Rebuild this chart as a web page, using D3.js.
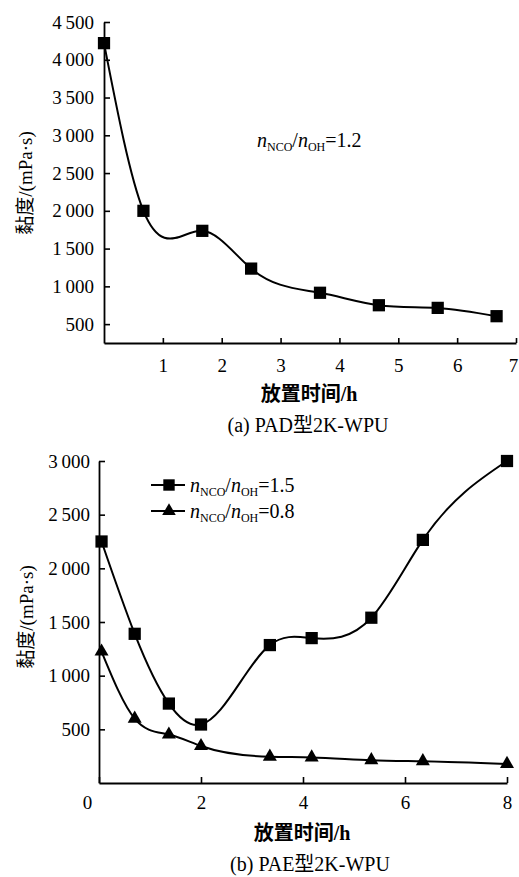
<!DOCTYPE html>
<html><head><meta charset="utf-8">
<script src="https://cdn.jsdelivr.net/npm/d3@7"></script>
<style>
html,body{margin:0;padding:0;background:#fff;}
svg text{fill:#000;}
</style></head>
<body>
<svg id="c" width="519" height="877"></svg>
<script>
// ---- data ----
const topHours = [0, 0.67, 1.67, 2.5, 3.67, 4.67, 5.67, 6.67];
const topVisc12 = [4220, 2000, 1735, 1235, 915, 750, 715, 605];
const topXTicks = [1, 2, 3, 4, 5, 6, 7];
const topYTicks = [500, 1000, 1500, 2000, 2500, 3000, 3500, 4000, 4500];

const botHours = [0.05, 0.7, 1.37, 2.0, 3.35, 4.17, 5.34, 6.35, 8.0];
const botVisc15 = [2250, 1390, 740, 545, 1285, 1350, 1540, 2265, 3000];
const botVisc08 = [1225, 600, 452, 345, 245, 238, 213, 203, 178];
const botXTicks = [0, 2, 4, 6, 8];
const botYTicks = [500, 1000, 1500, 2000, 2500, 3000];

const yTitle = "黏度/(mPa·s)";
const xTitle = "放置时间/h";
const capA = "(a) PAD型2K-WPU";
const capB = "(b) PAE型2K-WPU";

const svg = d3.select("#c");
const SERIF = "'Liberation Serif','Times New Roman','Noto Sans CJK SC',serif";
const fmt = v => d3.format(",")(v).replace(",", "\u2009");

// d3 curve: natural cubic spline of y as a function of x (drawn as Bezier segments)
function curveSplineX(context){
  let pts;
  return {
    areaStart(){}, areaEnd(){},
    lineStart(){ pts = []; },
    point(x, y){ pts.push([+x, +y]); },
    lineEnd(){
      const n = pts.length;
      if (!n) return;
      context.moveTo(pts[0][0], pts[0][1]);
      if (n < 3){ for (let i = 1; i < n; i++) context.lineTo(pts[i][0], pts[i][1]); return; }
      const h = [], M = new Array(n).fill(0);
      for (let i = 0; i < n - 1; i++) h.push(pts[i+1][0] - pts[i][0]);
      const a = [], b = [], c = [], r = [];
      for (let i = 1; i < n - 1; i++){
        a.push(h[i-1]); b.push(2*(h[i-1]+h[i])); c.push(h[i]);
        r.push(6*((pts[i+1][1]-pts[i][1])/h[i] - (pts[i][1]-pts[i-1][1])/h[i-1]));
      }
      const m = b.length;
      for (let i = 1; i < m; i++){ const w = a[i]/b[i-1]; b[i] -= w*c[i-1]; r[i] -= w*r[i-1]; }
      const sol = new Array(m);
      sol[m-1] = r[m-1]/b[m-1];
      for (let i = m - 2; i >= 0; i--) sol[i] = (r[i] - c[i]*sol[i+1])/b[i];
      for (let i = 0; i < m; i++) M[i+1] = sol[i];
      const slope = i => i < n - 1
        ? (pts[i+1][1]-pts[i][1])/h[i] - h[i]*(2*M[i]+M[i+1])/6
        : (pts[i][1]-pts[i-1][1])/h[i-1] + h[i-1]*(M[i-1]+2*M[i])/6;
      for (let i = 0; i < n - 1; i++){
        const d = h[i]/3, s0 = slope(i), s1 = slope(i+1);
        context.bezierCurveTo(pts[i][0]+d, pts[i][1]+s0*d, pts[i+1][0]-d, pts[i+1][1]-s1*d, pts[i+1][0], pts[i+1][1]);
      }
    }
  };
}

function styleAxis(g){
  g.attr("font-family", SERIF).attr("font-size", 19);
  g.select(".domain").attr("stroke", "#000").attr("stroke-width", 1.8);
  g.selectAll(".tick line").attr("stroke", "#000").attr("stroke-width", 1.6);
  g.selectAll(".tick text").attr("fill", "#000");
}

function ratioLabel(g, x, y, val){
  const t = g.append("text").attr("x", x).attr("y", y)
    .attr("font-family", SERIF).attr("font-size", 20);
  t.append("tspan").attr("font-style", "italic").text("n");
  t.append("tspan").attr("font-size", 12).attr("dy", 4).text("NCO");
  t.append("tspan").attr("dy", -4).text("/");
  t.append("tspan").attr("font-style", "italic").text("n");
  t.append("tspan").attr("font-size", 12).attr("dy", 4).text("OH");
  t.append("tspan").attr("dy", -4).text("=" + val);
}

function yLabel(x, y){
  svg.append("text").attr("transform", `translate(${x},${y}) rotate(-90)`)
    .attr("text-anchor", "middle").attr("font-family", SERIF)
    .attr("font-size", 19).attr("dy", "0.35em").text(yTitle);
}

// ---- top chart ----
const x1 = d3.scaleLinear().domain([0, 7]).range([104, 516]);
const y1 = d3.scaleLinear().domain([250, 4500]).range([343, 22]);

const gx1 = svg.append("g").attr("transform", `translate(0,${y1(250)})`)
  .call(d3.axisBottom(x1).tickValues(topXTicks).tickFormat(d3.format("d"))
    .tickSizeInner(-5).tickSizeOuter(0).tickPadding(16))
  .call(styleAxis);
gx1.selectAll(".tick").filter(d => d === 7).select("text").attr("x", -3);
svg.append("g").attr("transform", `translate(${x1(0)},0)`)
  .call(d3.axisLeft(y1).tickValues(topYTicks).tickSizeInner(-6).tickSizeOuter(0).tickPadding(10).tickFormat(fmt))
  .call(styleAxis);

const line1 = d3.line().x((d, i) => x1(topHours[i])).y(d => y1(d)).curve(curveSplineX);
svg.append("path").datum(topVisc12).attr("d", line1)
  .attr("fill", "none").attr("stroke", "#000").attr("stroke-width", 2);
svg.append("g").selectAll("path").data(topVisc12).join("path")
  .attr("transform", (d, i) => `translate(${x1(topHours[i])},${y1(d)})`)
  .attr("d", d3.symbol(d3.symbolSquare, 150)).attr("fill", "#000");

ratioLabel(svg, 257, 147, "1.2");

svg.append("text").attr("x", 309).attr("y", 401).attr("text-anchor", "middle")
  .attr("font-family", SERIF).attr("font-size", 20).attr("font-weight", "bold").text(xTitle);
svg.append("text").attr("x", 308).attr("y", 432).attr("text-anchor", "middle")
  .attr("font-family", SERIF).attr("font-size", 20).text(capA);
yLabel(25, 183);

// ---- bottom chart ----
const x2 = d3.scaleLinear().domain([0, 8]).range([99, 507]);
const y2 = d3.scaleLinear().domain([0, 3000]).range([783, 461]);

const gx2 = svg.append("g").attr("transform", `translate(0,${y2(0)})`)
  .call(d3.axisBottom(x2).tickValues(botXTicks).tickSizeInner(-6).tickSizeOuter(0).tickPadding(13))
  .call(styleAxis);
gx2.selectAll(".tick").filter(d => d === 0).select("text").attr("x", -12);
svg.append("g").attr("transform", `translate(${x2(0)},0)`)
  .call(d3.axisLeft(y2).tickValues(botYTicks).tickSizeInner(-6).tickSizeOuter(0).tickPadding(9).tickFormat(fmt))
  .call(styleAxis);

const line2 = arr => d3.line().x((d, i) => x2(botHours[i])).y(d => y2(d)).curve(curveSplineX)(arr);
[botVisc15, botVisc08].forEach(s => {
  svg.append("path").attr("d", line2(s)).attr("fill", "none").attr("stroke", "#000").attr("stroke-width", 2);
});
svg.append("g").selectAll("path").data(botVisc15).join("path")
  .attr("transform", (d, i) => `translate(${x2(botHours[i])},${y2(d)})`)
  .attr("d", d3.symbol(d3.symbolSquare, 150)).attr("fill", "#000");
svg.append("g").selectAll("path").data(botVisc08).join("path")
  .attr("transform", (d, i) => `translate(${x2(botHours[i])},${y2(d)})`)
  .attr("d", d3.symbol(d3.symbolTriangle, 85)).attr("fill", "#000");

// legend
const leg = svg.append("g");
[[485, d3.symbolSquare, 130, "1.5"], [511, d3.symbolTriangle, 80, "0.8"]].forEach(([y, sym, sz, v]) => {
  leg.append("line").attr("x1", 151).attr("x2", 185).attr("y1", y).attr("y2", y)
    .attr("stroke", "#000").attr("stroke-width", 2);
  leg.append("path").attr("transform", `translate(169,${y})`).attr("d", d3.symbol(sym, sz)).attr("fill", "#000");
  ratioLabel(leg, 190, y + 7, v);
});

svg.append("text").attr("x", 302).attr("y", 840).attr("text-anchor", "middle")
  .attr("font-family", SERIF).attr("font-size", 20).attr("font-weight", "bold").text(xTitle);
svg.append("text").attr("x", 310).attr("y", 871).attr("text-anchor", "middle")
  .attr("font-family", SERIF).attr("font-size", 20).text(capB);
yLabel(26, 617);
</script>
</body></html>
